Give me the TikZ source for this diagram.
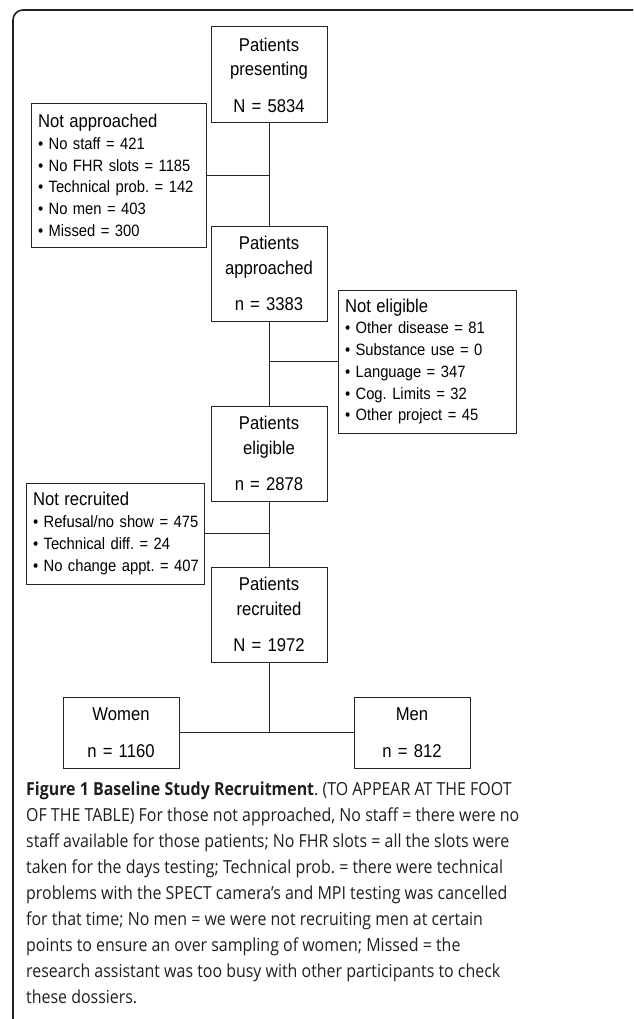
\documentclass[tikz,border=0pt]{standalone}
\usepackage{fontspec}
\setmainfont{Liberation Sans}[FakeStretch=0.9]
\newfontfamily\capfont{Open Sans}[FakeStretch=0.886]
\begin{document}
\frenchspacing
\begin{tikzpicture}[x=1pt,y=-1pt,
  line/.style={draw=black!85, line width=1pt},
  mainbox/.style={line, rectangle, inner sep=0pt, minimum width=116pt, text width=114pt, align=center,
    font=\fontsize{18.5}{24.5}\selectfont},
  sidebox/.style={line, rectangle, inner xsep=7pt, inner ysep=0pt, align=left,
    font=\fontsize{16.4}{21.7}\selectfont},
  capline/.style={anchor=base west, inner sep=0pt, text=black!88, font=\capfont\fontsize{18}{20}\selectfont},
]
\useasboundingbox (0,0) rectangle (633,1019);
% outer frame
\draw[black!88, line width=1.6pt, rounded corners=10pt] (13,1019) -- (13,10) -- (633,10);

\newcommand{\hd}[1]{\mbox{\fontsize{18.5}{21.7}\selectfont #1}}
\newcommand{\itm}[1]{\mbox{• #1}}

% main flow boxes
\node[mainbox, minimum height=96pt] (pres) at (269,75) {Patients\\presenting\\[12pt]N = 5834};
\node[mainbox, minimum height=95pt] (appr) at (269,273.5) {Patients\\approached\\[12pt]n = 3383};
\node[mainbox, minimum height=95pt] (elig) at (269,453.5) {Patients\\eligible\\[12pt]n = 2878};
\node[mainbox, minimum height=95pt] (recr) at (269,614.5) {Patients\\recruited\\[12pt]N = 1972};
\node[mainbox, minimum height=71pt] (women) at (121,732.5) {Women\\[12pt]n = 1160};
\node[mainbox, minimum height=71pt] (men) at (412,732.5) {Men\\[12pt]n = 812};

% side boxes
\node[sidebox, minimum width=175pt, text width=161pt, minimum height=143pt] (notappr) at (118.5,175.5)
  {\hd{Not approached}\\ \itm{No staff = 421}\\ \itm{No FHR slots = 1185}\\ \itm{Technical prob. = 142}\\ \itm{No men = 403}\\ \itm{Missed = 300}};
\node[sidebox, minimum width=178pt, text width=164pt, minimum height=143pt] (notelig) at (427,361.5)
  {\hd{Not eligible}\\ \itm{Other disease = 81}\\ \itm{Substance use = 0}\\ \itm{Language = 347}\\ \itm{Cog. Limits = 32}\\ \itm{Other project = 45}};
\node[sidebox, minimum width=178pt, text width=164pt, minimum height=101pt] (notrec) at (115,533.5)
  {\hd{Not recruited}\\ \itm{Refusal/no show = 475}\\ \itm{Technical diff. = 24}\\ \itm{No change appt. = 407}};

% connectors
\draw[line] (pres.south) -- (appr.north);
\draw[line] (notappr.east) -- (notappr.east -| pres.south);
\draw[line] (appr.south) -- (elig.north);
\draw[line] (notelig.west) -- (notelig.west -| appr.south);
\draw[line] (elig.south) -- (recr.north);
\draw[line] (notrec.east) -- (notrec.east -| elig.south);
\coordinate (split) at (recr.south |- women.east);
\draw[line] (recr.south) -- (split);
\draw[line] (women.east) -- (men.west);

% caption
\node[capline] (cap1) at (26,795) {\textbf{Figure 1 Baseline Study Recruitment}. (TO APPEAR AT THE FOOT};
\node[capline] (cap2) at (26,821) {OF THE TABLE) For those not approached, No staff = there were no};
\node[capline] (cap3) at (26,847) {staff available for those patients; No FHR slots = all the slots were};
\node[capline] (cap4) at (26,873) {taken for the days testing; Technical prob. = there were technical};
\node[capline] (cap5) at (26,899) {problems with the SPECT camera’s and MPI testing was cancelled};
\node[capline] (cap6) at (26,925) {for that time; No men = we were not recruiting men at certain};
\node[capline] (cap7) at (26,951) {points to ensure an over sampling of women; Missed = the};
\node[capline] (cap8) at (26,977) {research assistant was too busy with other participants to check};
\node[capline] (cap9) at (26,1003) {these dossiers.};
\end{tikzpicture}
\end{document}
